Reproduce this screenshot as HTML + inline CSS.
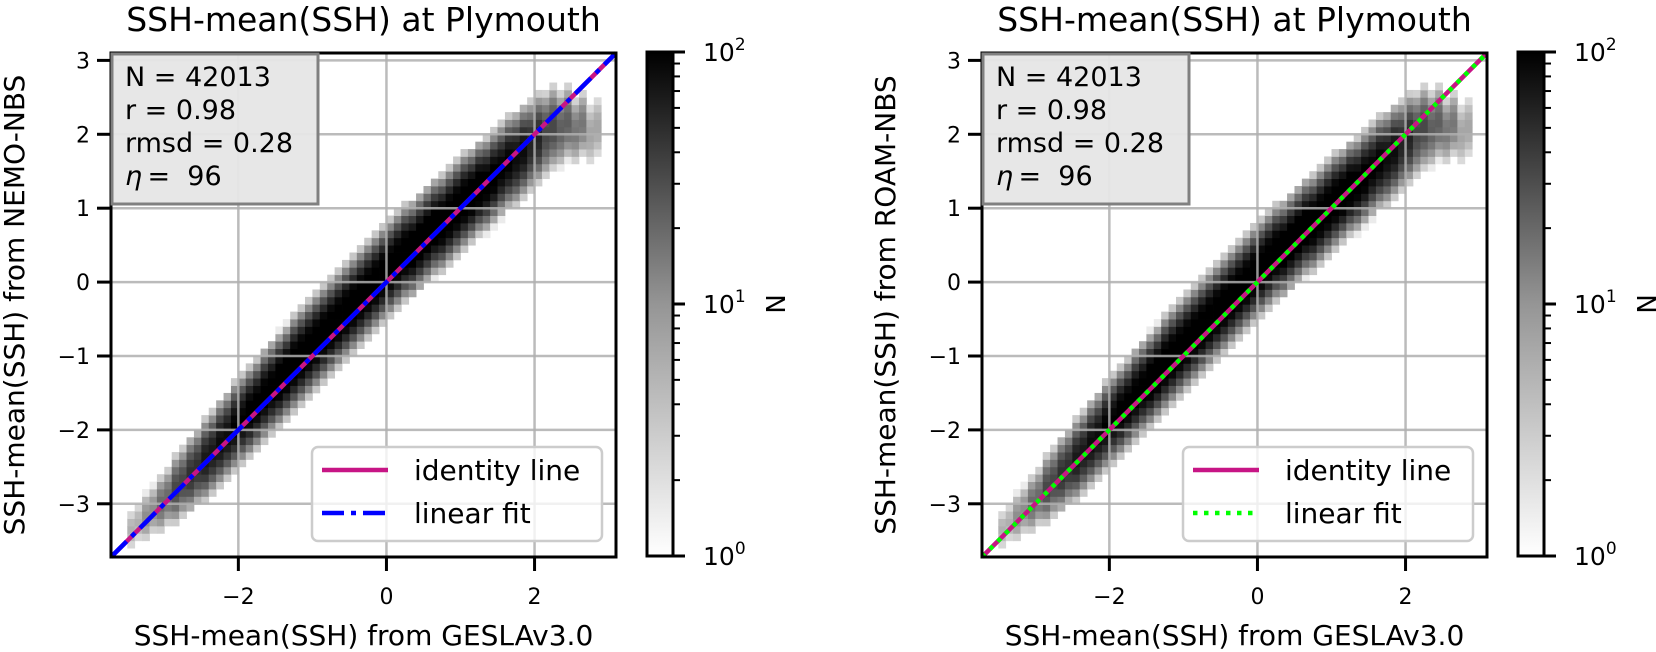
<!DOCTYPE html>
<html><head><meta charset="utf-8">
<style>
html,body{margin:0;padding:0;background:#fff;}
svg{display:block;font-family:"DejaVu Sans","Liberation Sans",sans-serif;}
</style></head>
<body>
<svg id="fig" width="1656" height="652" viewBox="0 0 1656 652" xmlns="http://www.w3.org/2000/svg"></svg>
<script>
// ---- data ----
const xTicks = [-2, 0, 2];
const yTicks = [-3, -2, -1, 0, 1, 2, 3];
const axisMin = -3.72, axisMax = 3.10;
const colX = [-3.4,-3.2,-3.0,-2.8,-2.6,-2.4,-2.2,-2.0,-1.8,-1.6,-1.4,-1.2,-1.0,-0.8,-0.6,-0.4,-0.2,0.0,0.2,0.4,0.6,0.8,1.0,1.2,1.4,1.6,1.8,2.0,2.2,2.4,2.6,2.8];
const bandLo = [-0.1,-0.2,-0.3,-0.4,-0.45,-0.5,-0.5,-0.5,-0.5,-0.5,-0.5,-0.5,-0.5,-0.5,-0.5,-0.5,-0.5,-0.5,-0.5,-0.55,-0.55,-0.6,-0.6,-0.6,-0.65,-0.65,-0.7,-0.7,-0.7,-0.75,-0.9,-1.1];
const bandHi = [0.3,0.35,0.4,0.5,0.55,0.6,0.65,0.7,0.7,0.75,0.75,0.8,0.8,0.8,0.8,0.8,0.8,0.8,0.8,0.75,0.75,0.7,0.7,0.65,0.6,0.6,0.55,0.5,0.4,0.2,-0.1,-0.4];
const bandPeak = [0.5,0.8,1.1,1.4,1.6,1.8,1.9,2.0,2.1,2.1,2.2,2.2,2.2,2.2,2.2,2.2,2.2,2.2,2.2,2.2,2.2,2.2,2.2,2.2,2.1,2.0,1.9,1.7,1.4,1.2,1.0,0.6];
const stats = ["N = 42013", "r = 0.98", "rmsd = 0.28"];
const etaValue = "96";
const cbarDecades = [0, 1, 2];

const NS = "http://www.w3.org/2000/svg";
const fig = document.getElementById('fig');
function mk(tag, attrs, parent){
  const e = document.createElementNS(NS, tag);
  for (const k in attrs) e.setAttribute(k, attrs[k]);
  (parent||fig).appendChild(e);
  return e;
}

function drawPanel(ox, title, ylabel, fitColor, fitDash, name){
  const L = 111 + ox, R = 616 + ox, T = 53, B = 557;
  const sx = v => L + (v - axisMin) / (axisMax - axisMin) * (R - L);
  const sy = v => B - (v - axisMin) / (axisMax - axisMin) * (B - T);
  const g = mk('g', {});
  
  
  const hm = mk('g', {}, g);
  
  
  const bw = 0.1;
  colX.forEach((cx, i) => {
    const c = (bandLo[i] + bandHi[i]) / 2, h = (bandHi[i] - bandLo[i]) / 2 + 0.05;
    for (let sub = 0; sub < 2; sub++) {
      const x0 = cx - 0.1 + sub * bw;
      for (let yb = Math.floor((x0 + bandLo[i] - 0.2) / bw); yb * bw <= x0 + bandHi[i] + 0.2; yb++) {
        const y0 = yb * bw;
        const d = (y0 + bw / 2) - (x0 + bw / 2);
        const t = Math.abs(d - c) / h;
        if (t >= 1) continue;
        const lc = bandPeak[i] * (1 - Math.pow(t, 2));
        const frac = Math.min(1, Math.max(0, lc / 2));
        const gv = Math.round(235 - 235 * frac);
        const r = mk('rect', {x: sx(x0), y: sy(y0 + bw), width: sx(x0 + bw) - sx(x0) + 0.4, height: sy(y0) - sy(y0 + bw) + 0.4, fill: `rgb(${gv},${gv},${gv})`}, hm);
        
        
      }
    }
  });
  xTicks.forEach(v => {
    const l = mk('line', {x1: sx(v), x2: sx(v), y1: T, y2: B, stroke: '#b0b0b0', 'stroke-width': 2.5, opacity: 0.85}, g);
    
    
  });
  yTicks.forEach(v => {
    const l = mk('line', {x1: L, x2: R, y1: sy(v), y2: sy(v), stroke: '#b0b0b0', 'stroke-width': 2.5, opacity: 0.85}, g);
    
    
  });
  const idl = mk('line', {x1: sx(axisMin), y1: sy(axisMin), x2: sx(axisMax), y2: sy(axisMax), stroke: '#c71585', 'stroke-width': 4.5}, g);
  
  
  const fl = mk('line', {x1: sx(axisMin), y1: sy(axisMin), x2: sx(axisMax), y2: sy(axisMax), stroke: fitColor, 'stroke-width': 4.5, 'stroke-dasharray': fitDash}, g);
  
  
  const sp = mk('rect', {x: L, y: T, width: R - L, height: B - T, fill: 'none', stroke: '#000', 'stroke-width': 3}, g);
  
  
  xTicks.forEach(v => {
    mk('line', {x1: sx(v), x2: sx(v), y1: B, y2: B + 14, stroke: '#000', 'stroke-width': 3}, g);
    const t = mk('text', {x: sx(v), y: 604, 'font-size': 22, 'text-anchor': 'middle'}, g);
    t.textContent = v < 0 ? '\u2212' + Math.abs(v) : String(v);
    
    
  });
  yTicks.forEach(v => {
    mk('line', {x1: L - 14, x2: L, y1: sy(v), y2: sy(v), stroke: '#000', 'stroke-width': 3}, g);
    const t = mk('text', {x: L - 21, y: sy(v) + 8, 'font-size': 22, 'text-anchor': 'end'}, g);
    t.textContent = v < 0 ? '\u2212' + Math.abs(v) : String(v);
    
    
  });
  const xl = mk('text', {x: (L + R) / 2, y: 645, 'font-size': 28, 'text-anchor': 'middle'}, g);
  xl.textContent = 'SSH-mean(SSH) from GESLAv3.0';
  
  
  const yl = mk('text', {x: 0, y: 0, 'font-size': 28, 'text-anchor': 'middle', transform: `translate(${L - 87},${(T + B) / 2}) rotate(-90)`}, g);
  yl.textContent = ylabel;
  
  
  const tt = mk('text', {x: (L + R) / 2, y: 31, 'font-size': 33, 'text-anchor': 'middle'}, g);
  tt.textContent = title;
  
  
  const sb = mk('rect', {x: L + 1, y: T + 1, width: 206, height: 150, fill: '#e6e6e6', 'fill-opacity': 0.95, stroke: '#808080', 'stroke-width': 3}, g);
  
  
  stats.forEach((s, i) => {
    const t = mk('text', {x: L + 14, y: 86 + i * 33, 'font-size': 27}, g);
    t.textContent = s;
    
    
  });
  const et = mk('text', {x: L + 14, y: 185, 'font-size': 27}, g);
  et.setAttribute('xml:space', 'preserve');
  et.innerHTML = '<tspan font-style="italic">\u03b7</tspan>\u2009=\u00a0\u00a0' + etaValue;
  
  
  const lg = mk('g', {}, g);
  
  
  mk('rect', {x: 312 + ox, y: 447, width: 290, height: 94, rx: 6, fill: '#fff', 'fill-opacity': 0.8, stroke: '#cccccc', 'stroke-width': 2.5}, lg);
  mk('line', {x1: 322 + ox, x2: 388 + ox, y1: 470, y2: 470, stroke: '#c71585', 'stroke-width': 4.5}, lg);
  mk('line', {x1: 322 + ox, x2: 388 + ox, y1: 513, y2: 513, stroke: fitColor, 'stroke-width': 4.5, 'stroke-dasharray': fitDash}, lg);
  const l1 = mk('text', {x: 414 + ox, y: 480, 'font-size': 28}, lg);
  l1.textContent = 'identity line';
  
  
  const l2 = mk('text', {x: 414 + ox, y: 523, 'font-size': 28}, lg);
  l2.textContent = 'linear fit';
  
  
  const cL = 647 + ox, cR = 673 + ox, cT = 52, cB = 556;
  const cy = v => cB - v / 2 * (cB - cT);
  const gid = 'cbg' + ox;
  const defs = mk('defs', {}, g);
  const lgd = mk('linearGradient', {id: gid, x1: 0, y1: 1, x2: 0, y2: 0}, defs);
  mk('stop', {offset: 0, 'stop-color': '#ffffff'}, lgd);
  mk('stop', {offset: 0.5, 'stop-color': '#959595'}, lgd);
  mk('stop', {offset: 1, 'stop-color': '#000000'}, lgd);
  const cb = mk('rect', {x: cL, y: cT, width: cR - cL, height: cB - cT, fill: `url(#${gid})`, stroke: '#000', 'stroke-width': 3}, g);
  
  
  cbarDecades.forEach(d => {
    mk('line', {x1: cR, x2: cR + 12, y1: cy(d), y2: cy(d), stroke: '#000', 'stroke-width': 3}, g);
    const t = mk('text', {x: cR + 30, y: cy(d) + 9, 'font-size': 25}, g);
    t.innerHTML = '10<tspan font-size="17" dy="-11">' + d + '</tspan>';
    
    
    if (d < 2) for (let k = 2; k <= 9; k++) {
      const v = d + Math.log10(k);
      mk('line', {x1: cR, x2: cR + 7, y1: cy(v), y2: cy(v), stroke: '#000', 'stroke-width': 2}, g);
    }
  });
  const nl = mk('text', {x: 0, y: 0, 'font-size': 26, 'text-anchor': 'middle', transform: `translate(${cR + 93},${(cT + cB) / 2}) rotate(90)`}, g);
  nl.textContent = 'N';
  
  
}

drawPanel(0, 'SSH-mean(SSH) at Plymouth', 'SSH-mean(SSH) from NEMO-NBS', '#0000ff', '22 7 5 7', 'left-panel');
drawPanel(871, 'SSH-mean(SSH) at Plymouth', 'SSH-mean(SSH) from ROAM-NBS', '#00ff00', '4.5 6.5', 'right-panel');
</script>
</body></html>
